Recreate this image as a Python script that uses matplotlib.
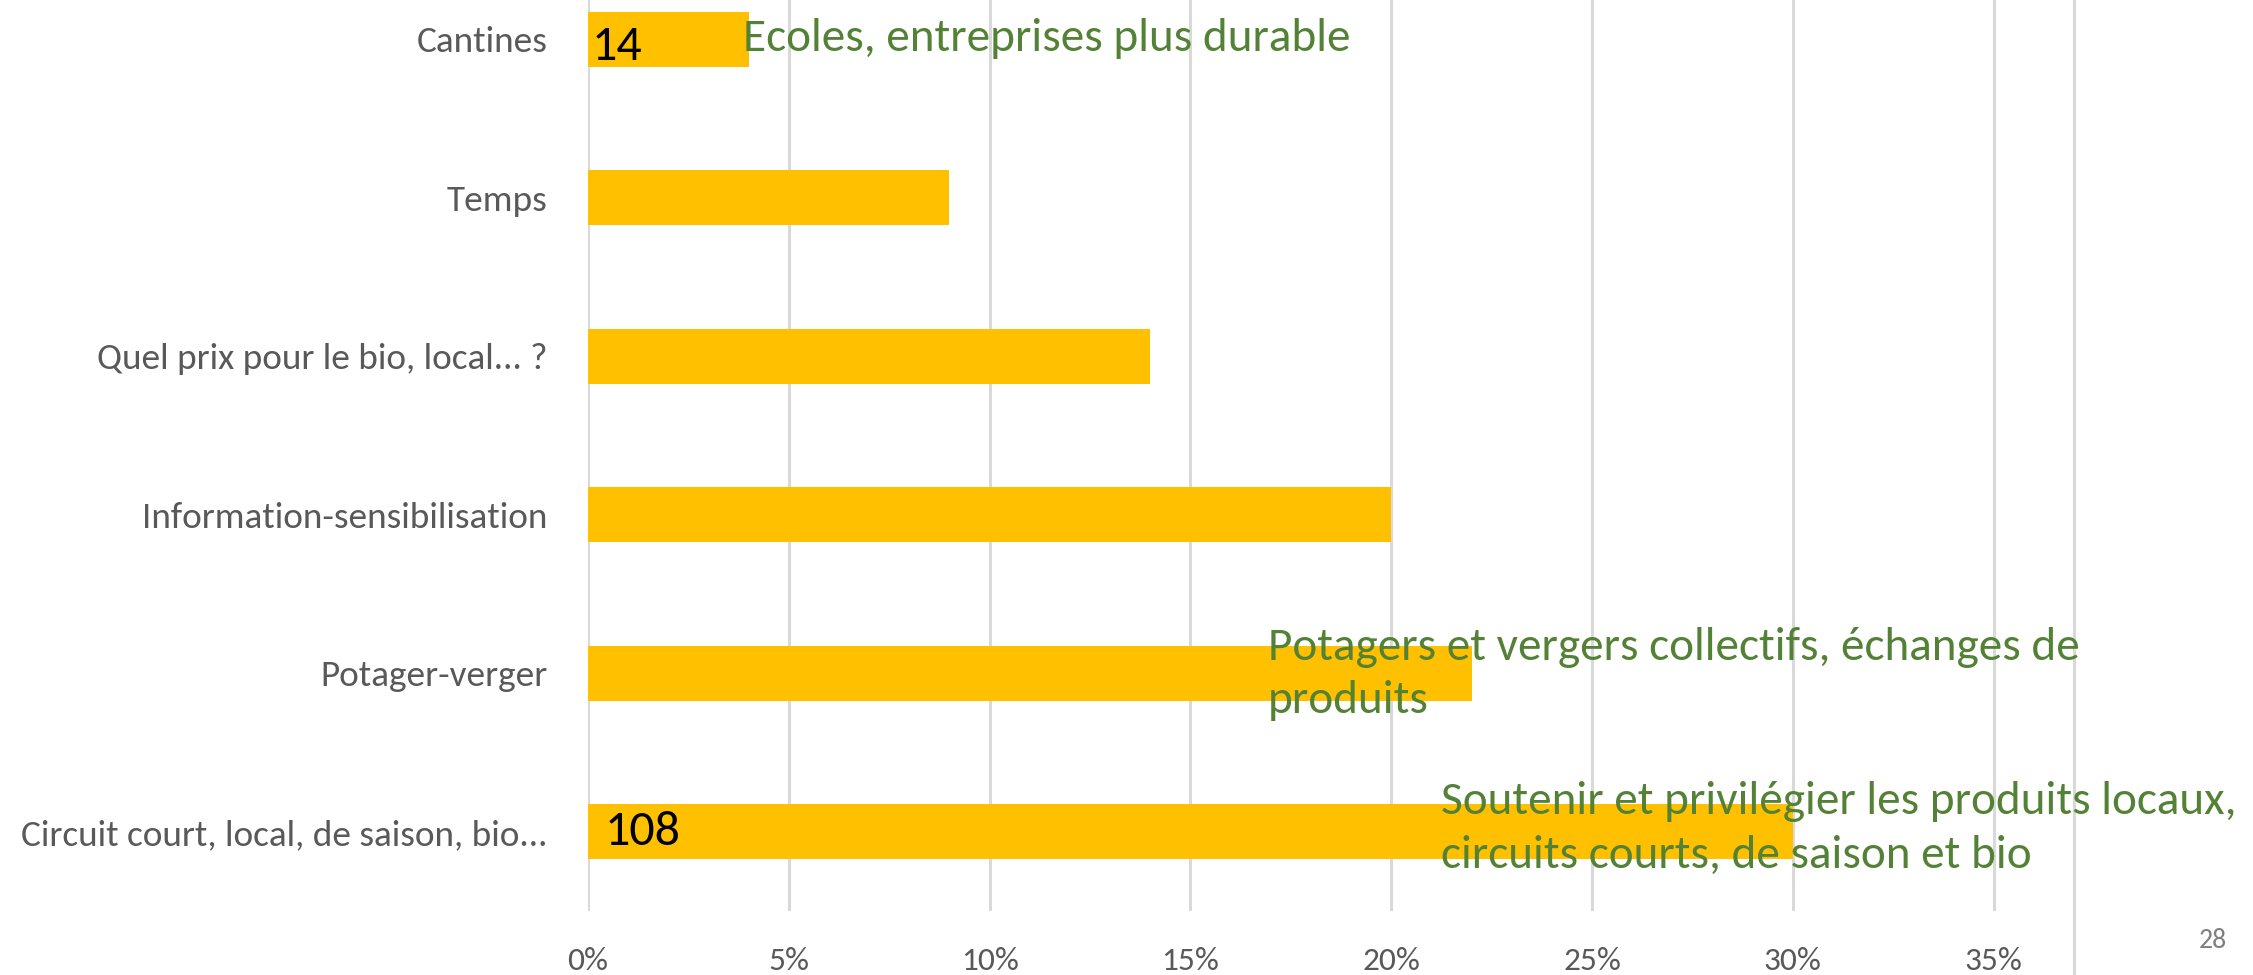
import matplotlib
matplotlib.use('Agg')
import matplotlib.pyplot as plt
from matplotlib.lines import Line2D

categories = ['Circuit court, local, de saison, bio...', 'Potager-verger',
              'Information-sensibilisation', 'Quel prix pour le bio, local... ?',
              'Temps', 'Cantines']
shares = [0.30, 0.22, 0.20, 0.14, 0.09, 0.04]
counts = {'Cantines': '14', 'Circuit court, local, de saison, bio...': '108'}
notes = {
    'Cantines': 'Ecoles, entreprises plus durable',
    'Potager-verger': 'Potagers et vergers collectifs, échanges de\nproduits',
    'Circuit court, local, de saison, bio...': 'Soutenir et privilégier les produits locaux,\ncircuits courts, de saison et bio',
}
ticks = [0, 0.05, 0.10, 0.15, 0.20, 0.25, 0.30, 0.35]
tick_labels = ['0%', '5%', '10%', '15%', '20%', '25%', '30%', '35%']
page_number = '28'

plt.rcParams['font.family'] = ['Carlito', 'DejaVu Sans']

W, H = 2253, 975
fig = plt.figure(figsize=(W / 100, H / 100), dpi=100)
ax = fig.add_axes([588 / W, 1 - 911 / H, (2074 - 588) / W, (911 + 40) / H])
ax.set_facecolor('none')

y = list(range(len(categories)))
ax.barh(y, shares, height=0.344, color='#FFC000', zorder=2)
ax.set_xlim(0, 0.37)
ax.set_ylim(-0.5, len(categories) - 0.5)
ax.set_xticks(ticks)
ax.set_xticklabels(tick_labels)
ax.set_yticks(y)
ax.set_yticklabels(categories)
ax.tick_params(axis='x', length=0, pad=26, labelsize=24, labelcolor='#595959')
ax.tick_params(axis='y', length=0, pad=29, labelsize=26.8, labelcolor='#595959')
ax.grid(axis='x', color='#D9D9D9', linewidth=2.2, zorder=0)
for s in ax.spines.values():
    s.set_visible(False)

# value labels and green comments
pos = {c: i for i, c in enumerate(categories)}
offs = {'Cantines': (0.0008, -0.05), 'Circuit court, local, de saison, bio...': (0.0042, 0.0)}
for c, t in counts.items():
    dx, dy = offs[c]
    ax.text(dx, pos[c] + dy, t, fontsize=36, color='black', va='center', ha='left', zorder=4)

note_pos = {'Cantines': (0.0386, 0.002), 'Potager-verger': (0.1692, -0.006),
            'Circuit court, local, de saison, bio...': (0.2124, 0.022)}
for c, t in notes.items():
    x0, dy = note_pos[c]
    ax.text(x0, pos[c] + dy, t, fontsize=34, color='#538135', va='center', ha='left',
            linespacing=1.38, zorder=4)

# slide border line behind the chart
fig.add_artist(Line2D([2074 / W, 2074 / W], [0, 1], color='#D9D9D9', linewidth=2.2, zorder=-1))
fig.text(2213 / W, 1 - 941 / H, page_number, fontsize=20, color='#7F7F7F', ha='center', va='center')

fig.savefig('out.png', dpi=100)
